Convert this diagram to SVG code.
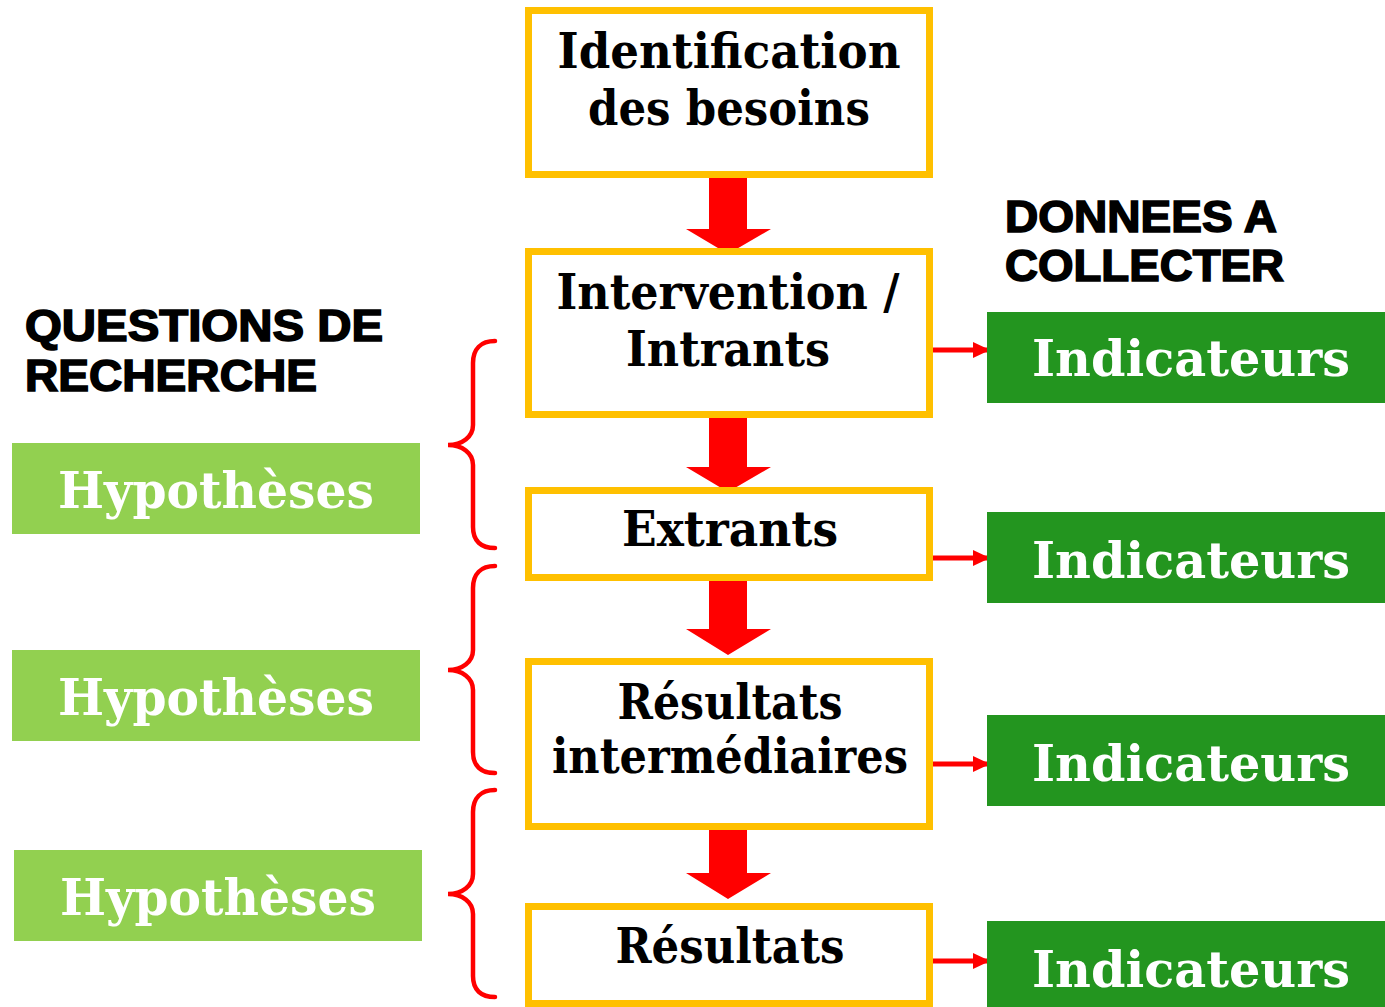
<svg xmlns="http://www.w3.org/2000/svg" width="1385" height="1007" viewBox="0 0 1385 1007">
<style>
.box{fill:#fff;stroke:#FFC000;stroke-width:7}
.bt{font-family:"DejaVu Serif","Liberation Serif",serif;font-weight:bold;font-size:48px;fill:#000;text-anchor:middle}
.ind{fill:#23951F}
.hyp{fill:#92D050}
.wt{font-family:"DejaVu Serif","Liberation Serif",serif;font-weight:bold;font-size:51px;fill:#fff;text-anchor:middle}
.hd{font-family:"Liberation Sans",Arial,sans-serif;font-weight:bold;font-size:44px;fill:#000;stroke:#000;stroke-width:1.6}
.blk{fill:#FF0000}
.con{stroke:#FF0000;stroke-width:5;fill:none}
.brace{stroke:#FF0000;stroke-width:4.5;fill:none;stroke-linecap:round}
</style>
<defs>
<marker id="ah" markerUnits="userSpaceOnUse" markerWidth="17" markerHeight="16" refX="16" refY="8" orient="auto">
<path d="M0,0 L17,8 L0,16 Z" fill="#FF0000"/>
</marker>
<path id="br" d="M495,341 C481,341 473,349 473,363 L473,425 C473,437 462,445 448,445 C462,445 473,453 473,465 L473,527 C473,541 481,548 495,548"/>
</defs>
<rect width="1385" height="1007" fill="#fff"/>

<g id="headings">
<text class="hd" x="25" y="341" textLength="358" lengthAdjust="spacingAndGlyphs">QUESTIONS DE</text>
<text class="hd" x="25" y="391" textLength="292" lengthAdjust="spacingAndGlyphs">RECHERCHE</text>
<text class="hd" x="1005" y="232" textLength="272" lengthAdjust="spacingAndGlyphs">DONNEES A</text>
<text class="hd" x="1005" y="281" textLength="279" lengthAdjust="spacingAndGlyphs">COLLECTER</text>
</g>

<g id="connectors">
<polygon class="blk" points="709,178 747,178 747,229 771,229 728,254 686,229 709,229"/>
<polygon class="blk" points="709,417 747,417 747,467 771,467 728,492 686,467 709,467"/>
<polygon class="blk" points="709,580 747,580 747,629 771,629 728,655 686,629 709,629"/>
<polygon class="blk" points="709,824 747,824 747,873 771,873 728,899 686,873 709,873"/>
<line class="con" x1="931" y1="350" x2="989" y2="350" marker-end="url(#ah)"/>
<line class="con" x1="931" y1="558" x2="989" y2="558" marker-end="url(#ah)"/>
<line class="con" x1="931" y1="764" x2="989" y2="764" marker-end="url(#ah)"/>
<line class="con" x1="931" y1="961" x2="989" y2="961" marker-end="url(#ah)"/>
<use href="#br" class="brace"/>
<use href="#br" class="brace" transform="translate(0,225)"/>
<use href="#br" class="brace" transform="translate(0,449)"/>
</g>

<g id="n-identification">
<rect class="box" x="528.5" y="10.5" width="401" height="164"/>
<text class="bt" x="729" y="68" textLength="343" lengthAdjust="spacingAndGlyphs">Identification</text>
<text class="bt" x="729" y="125" textLength="282" lengthAdjust="spacingAndGlyphs">des besoins</text>
</g>
<g id="n-intervention">
<rect class="box" x="528.5" y="251.5" width="401" height="163"/>
<text class="bt" x="728" y="309" textLength="343" lengthAdjust="spacingAndGlyphs">Intervention /</text>
<text class="bt" x="728" y="366" textLength="204" lengthAdjust="spacingAndGlyphs">Intrants</text>
</g>
<g id="n-extrants">
<rect class="box" x="528.5" y="490.5" width="401" height="87"/>
<text class="bt" x="730" y="546" textLength="216" lengthAdjust="spacingAndGlyphs">Extrants</text>
</g>
<g id="n-resultats-int">
<rect class="box" x="528.5" y="661.5" width="401" height="165"/>
<text class="bt" x="730" y="719" textLength="225" lengthAdjust="spacingAndGlyphs">Résultats</text>
<text class="bt" x="730" y="773" textLength="356" lengthAdjust="spacingAndGlyphs">intermédiaires</text>
</g>
<g id="n-resultats">
<rect class="box" x="528.5" y="906.5" width="401" height="97"/>
<text class="bt" x="730" y="963" textLength="229" lengthAdjust="spacingAndGlyphs">Résultats</text>
</g>

<g id="n-ind1"><rect class="ind" x="987" y="312" width="398" height="91"/><text class="wt" x="1191" y="376" textLength="318" lengthAdjust="spacingAndGlyphs">Indicateurs</text></g>
<g id="n-ind2"><rect class="ind" x="987" y="512" width="398" height="91"/><text class="wt" x="1191" y="578" textLength="318" lengthAdjust="spacingAndGlyphs">Indicateurs</text></g>
<g id="n-ind3"><rect class="ind" x="987" y="715" width="398" height="91"/><text class="wt" x="1191" y="781" textLength="318" lengthAdjust="spacingAndGlyphs">Indicateurs</text></g>
<g id="n-ind4"><rect class="ind" x="987" y="921" width="398" height="91"/><text class="wt" x="1191" y="987" textLength="318" lengthAdjust="spacingAndGlyphs">Indicateurs</text></g>

<g id="n-hyp1"><rect class="hyp" x="12" y="443" width="408" height="91"/><text class="wt" x="216" y="508" textLength="316" lengthAdjust="spacingAndGlyphs">Hypothèses</text></g>
<g id="n-hyp2"><rect class="hyp" x="12" y="650" width="408" height="91"/><text class="wt" x="216" y="715" textLength="316" lengthAdjust="spacingAndGlyphs">Hypothèses</text></g>
<g id="n-hyp3"><rect class="hyp" x="14" y="850" width="408" height="91"/><text class="wt" x="218" y="915" textLength="316" lengthAdjust="spacingAndGlyphs">Hypothèses</text></g>
</svg>
